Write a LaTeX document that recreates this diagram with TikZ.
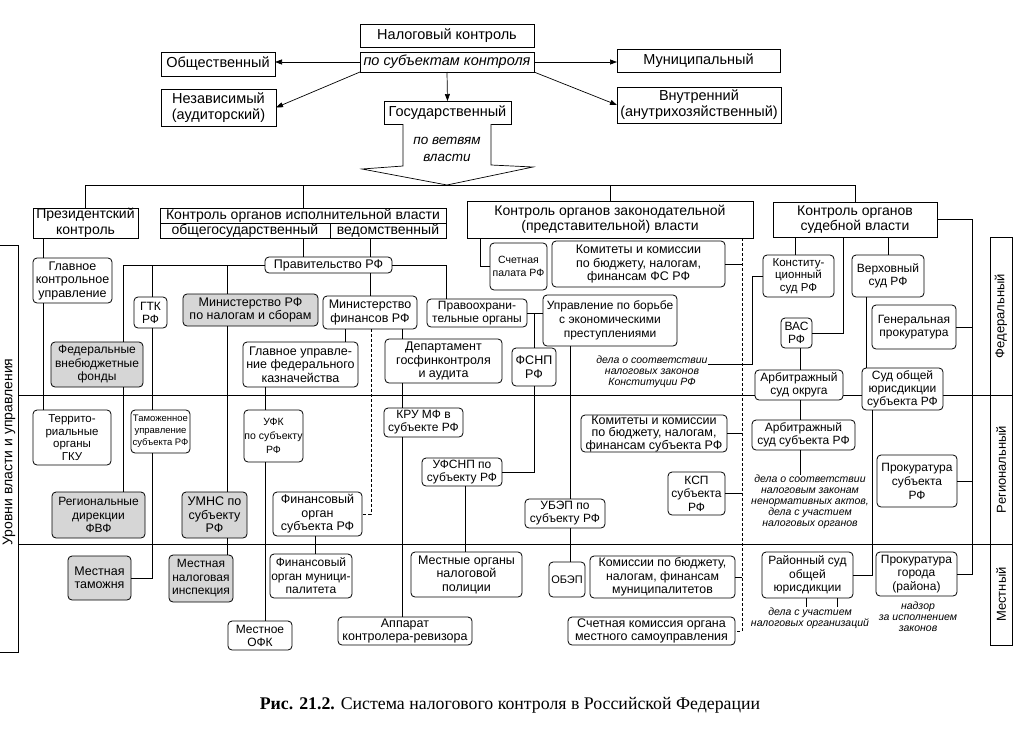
\documentclass[tikz,border=0pt]{standalone}
\usepackage{fontspec}
\setmainfont{Liberation Sans}
\newfontfamily\capfont{Liberation Serif}
\usetikzlibrary{arrows.meta}
\newcommand\fz[2]{\fontsize{#1}{#2}\selectfont}
\tikzset{
  bb/.style n args={4}{minimum width={(#3)-(#1)}, minimum height={(#4)-(#2)}, at={({((#1)+(#3))/2},{((#2)+(#4))/2})}},
  bx/.style={draw, line width=0.8pt, fill=white, inner sep=0pt, outer sep=0pt, align=center, font=\fz{14}{15.5}},
  tp/.style={bx, font=\fz{14.5}{16}},
  rb/.style={bx, rounded corners=4pt, font=\fz{12.5}{13.5}},
  gr/.style={rb, fill=black!16},
  ln/.style={line width=0.7pt},
  dl/.style={ln, dash pattern=on 3pt off 2pt},
  arr/.style={ln, -{Triangle[length=7pt,width=5pt]}},
  note/.style={font=\fz{10.5}{11}\itshape, align=center, inner sep=0pt},
  side/.style={font=\fz{13}{14}, rotate=90, inner sep=0pt},
}
\begin{document}
\begin{tikzpicture}[x=1pt,y=-1pt]
\fill[white] (0,0) rectangle (1021,745);
\useasboundingbox (0,0) rectangle (1021,745);

% level lines and side labels
\draw[ln] (18,395) -- (990,395);
\draw[ln] (18,544) -- (990,544);
\draw[ln] (0,245) -- (18,245) -- (18,652) -- (0,652);
\node[side, font=\fz{14}{15}] (lvl) at (9,452) {Уровни власти и управления};
\node[bx, bb={990}{237}{1012}{395}] (fed) {};
\node[bx, bb={990}{395}{1012}{544}] (reg) {};
\node[bx, bb={990}{544}{1012}{645}] (loc) {};
\node[side] (fedt) at (fed.center) {Федеральный};
\node[side] (regt) at (reg.center) {Региональный};
\node[side] (loct) at (loc.center) {Местный};

% top
\node[tp, bb={360}{24}{534}{47}] (nk) {Налоговый контроль};
\node[tp, bb={360}{52}{534}{72}, font=\fz{14.5}{16}\itshape] (subj) {по субъектам контроля};
\node[tp, bb={161}{52}{275}{76}] (obsh) {Общественный};
\node[tp, bb={161}{89}{276}{126}] (nezav) {Независимый\\(аудиторский)};
\node[tp, bb={384}{101}{511}{124}] (gos) {Государственный};
\node[tp, bb={617}{49}{780}{72}] (mun) {Муниципальный};
\node[tp, bb={617}{87}{781}{123}] (vnutr) {Внутренний\\(анутрихозяйственный)};

\draw[arr] (subj.west) -- (obsh.east |- subj.west);
\draw[arr] (subj.south west) -- (nezav.east);
\draw[arr] (subj.south) -- (gos.north);
\draw[arr] (subj.east) -- (mun.west |- subj.east);
\draw[arr] (subj.south east) -- (vnutr.west);

\coordinate (hub) at (447,185);
\draw[ln, fill=white, line join=miter] (gos.south -| 403,0) -- (403,166) -- (362,169) -- (hub) -- (533,167) -- (491,165) -- (gos.south -| 491,0);
\node[note, font=\fz{13.5}{17}\itshape] (vetv) at (447,149) {по ветвям\\власти};

% level 1
\node[bx, bb={33}{208}{138}{238}] (pres) {Президентский\\контроль};
\node[bx, bb={160}{208}{446}{238}] (exec) {};
\node[inner sep=0pt, font=\fz{14}{15}] (exect) at (303,215.5) {Контроль органов исполнительной власти};
\draw[line width=0.8pt] (exec.west |- 0,223) -- (exec.east |- 0,223);
\draw[line width=0.8pt] (330,223) -- (exec.south -| 330,0);
\node[inner sep=0pt, font=\fz{14}{15}] (obshg) at (245,230.5) {общегосударственный};
\node[inner sep=0pt, font=\fz{14}{15}] (ved) at (388,230.5) {ведомственный};
\node[bx, bb={467}{201}{753}{238}] (legis) {Контроль органов законодательной\\(представительной) власти};
\node[bx, bb={773}{202}{937}{237}] (jud) {Контроль органов\\судебной власти};

\draw[ln] (pres.north) -- (pres.north |- hub) -- (jud.north |- hub) -- (jud.north);
\draw[ln] (exec.north) -- (exec.north |- hub);
\draw[ln] (legis.north) -- (legis.north |- hub);

% executive branch
\node[rb, bb={33}{258}{112}{303}] (gku) {Главное\\контрольное\\управление};
\node[rb, bb={33}{410}{111}{465}, font=\fz{11.5}{12.5}] (terr) {Террито-\\риальные\\органы\\ГКУ};
\node[rb, bb={265}{257}{392}{273}] (prav) {Правительство РФ};
\node[gr, bb={51}{342}{143}{387}, font=\fz{12}{13.5}] (fvf) {Федеральные\\внебюджетные\\фонды};
\node[gr, bb={52}{492}{145}{538}, font=\fz{12}{13.5}] (regd) {Региональные\\дирекции\\ФВФ};
\node[rb, bb={134}{297}{167}{328}, font=\fz{12}{13}] (gtk) {ГТК\\РФ};
\node[rb, bb={131}{410}{190}{453}, font=\fz{9.5}{12}] (tam) {Таможенное\\управление\\субъекта РФ};
\node[gr, bb={68}{556}{131}{600}] (mtam) {Местная\\таможня};
\node[gr, bb={183}{294}{318}{326}] (mns) {Министерство РФ\\по налогам и сборам};
\node[gr, bb={182}{492}{247}{538}] (umns) {УМНС по\\субъекту\\РФ};
\node[gr, bb={169}{555}{233}{602}, font=\fz{12}{13.5}] (mni) {Местная\\налоговая\\инспекция};
\node[rb, bb={323}{296}{417}{329}] (minfin) {Министерство\\финансов РФ};
\node[rb, bb={243}{342}{358}{387}, font=\fz{12.5}{13.5}] (gufk) {Главное управле-\\ние федерального\\казначейства};
\node[rb, bb={244}{410}{303}{462}, font=\fz{10.5}{14}] (ufk) {УФК\\по субъекту\\РФ};
\node[rb, bb={273}{492}{362}{536}] (finsubj) {Финансовый\\орган\\субъекта РФ};
\node[rb, bb={270}{554}{352}{598}, font=\fz{12}{13.5}] (finmun) {Финансовый\\орган муници-\\палитета};
\node[rb, bb={228}{621}{292}{650}, font=\fz{12}{13}] (mofk) {Местное\\ОФК};
\node[rb, bb={385}{339}{502}{383}] (dep) {Департамент\\госфинконтроля\\и аудита};
\node[rb, bb={384}{408}{463}{437}, font=\fz{12}{13}] (kru) {КРУ МФ в\\субъекте РФ};
\node[rb, bb={338}{617}{472}{645}] (app) {Аппарат\\контролера-ревизора};
\node[rb, bb={427}{299}{527}{327}, font=\fz{12}{13}] (pravo) {Правоохрани-\\тельные органы};
\node[rb, bb={543}{295}{677}{346}, font=\fz{12}{14}] (ubep) {Управление по борьбе\\с экономическими\\преступлениями};
\node[rb, bb={512}{348}{556}{386}] (fsnp) {ФСНП\\РФ};
\node[rb, bb={422}{458}{502}{486}, font=\fz{12}{13}] (ufsnp) {УФСНП по\\субъекту РФ};
\node[rb, bb={411}{552}{522}{597}] (mop) {Местные органы\\налоговой\\полиции};
\node[rb, bb={525}{499}{605}{528}, font=\fz{12}{13}] (ubeps) {УБЭП по\\субъекту РФ};
\node[rb, bb={549}{562}{585}{597}, font=\fz{11}{13}] (obep) {ОБЭП};

\draw[ln] (pres.south -| 43,0) -- (gku.north -| 43,0);
\draw[ln] (gku.south -| 43,0) -- (terr.north -| 43,0);
\draw[ln] (exec.south) -- (prav.north -| exec.south);
\draw[ln] (exec.south -| minfin.north) -- (prav.north -| minfin.north);
\draw[ln] (prav.south -| minfin.north) -- (minfin.north);
\draw[ln] (prav.west) -| (fvf.north -| 123,0);
\draw[ln] (gtk.north -| 152,0) -- (prav.west -| 152,0);
\draw[ln] (mns.north -| 227,0) -- (prav.west -| 227,0);
\draw[ln] (fvf.south -| 123,0) -- (regd.north -| 123,0);
\draw[ln] (gtk.south -| 152,0) -- (tam.north -| 152,0);
\draw[ln] (tam.south -| 152,0) |- (mtam.east);
\draw[ln] (mns.south -| 227,0) -- (umns.north -| 227,0);
\draw[ln] (umns.south -| 227,0) -- (mni.north -| 227,0);
\draw[ln] (minfin.south -| 345,0) -- (gufk.north -| 345,0);
\draw[ln] (minfin.south -| 402,0) -- (dep.north -| 402,0);
\draw[dl] (minfin.south -| 371,0) |- (finsubj.east);
\draw[ln] (gufk.south -| 265,0) -- (ufk.north -| 265,0);
\draw[ln] (ufk.south -| 265,0) -- (mofk.north -| 265,0);
\draw[ln] (finsubj.south -| 315,0) -- (finmun.north -| 315,0);
\draw[ln] (dep.south -| 402,0) -- (kru.north -| 402,0);
\draw[ln] (kru.south -| 402,0) -- (app.north -| 402,0);
\draw[ln] (prav.east) -| (pravo.north -| 446,0);
\draw[ln] (pravo.east) -- (ubep.west |- pravo.east);
\draw[ln] (pravo.east -| 534,0) -- (fsnp.north -| 534,0);
\draw[ln] (fsnp.south -| 534,0) |- (ufsnp.east);
\draw[ln] (ufsnp.south -| 465,0) -- (mop.north -| 465,0);
\draw[ln] (ubep.south -| 570,0) -- (ubeps.north -| 570,0);
\draw[ln] (ubeps.south -| 570,0) -- (obep.north -| 570,0);

% legislative branch
\node[rb, bb={490}{243}{547}{290}, font=\fz{10.5}{13.5}] (schp) {Счетная\\палата РФ};
\node[rb, bb={552}{241}{725}{287}] (komfs) {Комитеты и комиссии\\по бюджету, налогам,\\финансам ФС РФ};
\node[rb, bb={581}{415}{727}{452}, font=\fz{12.5}{12.5}] (komsubj) {Комитеты и комиссии\\по бюджету, налогам,\\финансам субъекта РФ};
\node[rb, bb={668}{472}{725}{515}, font=\fz{12}{13.5}] (ksp) {КСП\\субъекта\\РФ};
\node[rb, bb={590}{556}{735}{598}, font=\fz{12.3}{13.5}] (kommun) {Комиссии по бюджету,\\налогам, финансам\\муниципалитетов};
\node[rb, bb={568}{617}{735}{645}] (schk) {Счетная комиссия органа\\местного самоуправления};
\node[note] (note1) at (652,372) {дела о соответствии\\налоговых законов\\Конституции РФ};

\draw[ln] (legis.south -| 480,0) |- (schp.west);
\draw[dl] (legis.south -| 742,0) |- (schk.east);
\draw[ln] (komfs.east) -- (komfs.east -| 742,0);
\draw[ln] (komsubj.east) -- (komsubj.east -| 742,0);
\draw[ln] (ksp.east) -- (ksp.east -| 742,0);
\draw[ln] (kommun.east) -- (kommun.east -| 742,0);

% judicial branch
\node[rb, bb={763}{255}{834}{297}, font=\fz{11.5}{12.5}] (ksud) {Конститу-\\ционный\\суд РФ};
\node[rb, bb={852}{255}{924}{297}, font=\fz{12}{13.5}] (vs) {Верховный\\суд РФ};
\node[rb, bb={781}{318}{812}{348}, font=\fz{12}{13}] (vas) {ВАС\\РФ};
\node[rb, bb={872}{305}{956}{349}, font=\fz{12}{13.5}] (gen) {Генеральная\\прокуратура};
\node[rb, bb={755}{370}{843}{400}, font=\fz{12}{13}] (arbokr) {Арбитражный\\суд округа};
\node[rb, bb={752}{420}{855}{450}, font=\fz{12}{13}] (arbsubj) {Арбитражный\\суд субъекта РФ};
\node[rb, bb={862}{368}{943}{410}, font=\fz{12}{13}] (sudobsh) {Суд общей\\юрисдикции\\субъекта РФ};
\node[rb, bb={877}{455}{957}{507}, font=\fz{12}{14}] (proksubj) {Прокуратура\\субъекта\\РФ};
\node[rb, bb={762}{552}{853}{598}, font=\fz{12}{13.5}] (rsud) {Районный суд\\общей\\юрисдикции};
\node[rb, bb={876}{552}{957}{596}, font=\fz{12}{13.5}] (prokgor) {Прокуратура\\города\\(района)};
\node[note] (note2) at (810,502) {дела о соответствии\\налоговым законам\\ненормативных актов,\\дела с участием\\налоговых органов};
\node[note] (note3) at (810,618) {дела с участием\\налоговых организаций};
\node[note] (note4) at (918,617) {надзор\\за исполнением\\законов};

\draw[ln] (jud.south -| 795,0) -- (ksud.north -| 795,0);
\draw[ln] (jud.south -| 888,0) -- (vs.north -| 888,0);
\draw[ln] (jud.south -| 843,0) |- (vas.east);
\draw[ln] (jud.east) -| (prokgor.east -| 972,0) -- (prokgor.east);
\draw[ln] (gen.east) -- (gen.east -| 972,0);
\draw[ln] (proksubj.east) -- (proksubj.east -| 972,0);
\coordinate (k1) at (752,364);
\draw[ln] (ksud.west) -| (k1) -- (k1 -| note1.east);
\draw[ln] (vas.south -| 800,0) -- (arbokr.north -| 800,0);
\draw[ln] (arbokr.south -| 800,0) -- (arbsubj.north -| 800,0);
\draw[ln] (arbsubj.south -| 800,0) -- (note2.north -| 800,0);
\draw[ln] (vs.south -| 866,0) -- (sudobsh.north -| 866,0);
\draw[ln] (sudobsh.south -| 872,0) |- (rsud.east);
\draw[ln] (rsud.south -| 806,0) -- (note3.north -| 806,0);
\draw[ln] (rsud.south -| 837,0) -- (note3.north -| 837,0);

% caption
\node[font=\capfont\fz{17.8}{20}] (cap) at (510,705) {\textbf{Рис. 21.2.} Система налогового контроля в Российской Федерации};
\end{tikzpicture}
\end{document}
